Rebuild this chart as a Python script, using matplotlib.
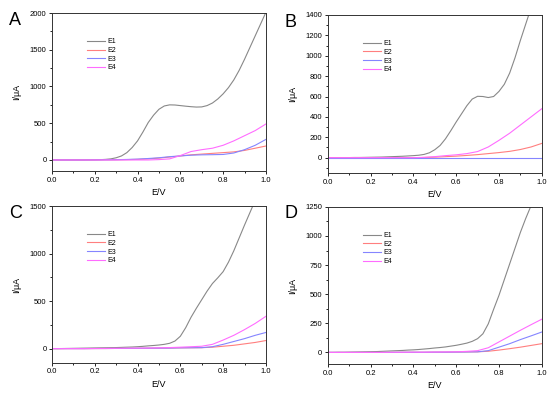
import numpy as np
import matplotlib
matplotlib.use("Agg")
import matplotlib.pyplot as plt
from matplotlib.ticker import MultipleLocator

plt.rcParams['font.family'] = ['Liberation Sans', 'DejaVu Sans']

# potential (V): coarse grid for the small currents, fine grid for E1
E = [0.00, 0.05, 0.10, 0.15, 0.20, 0.25, 0.30, 0.35, 0.40, 0.45, 0.50,
     0.55, 0.60, 0.65, 0.70, 0.75, 0.80, 0.85, 0.90, 0.95, 1.00]
E_fine = [0.000, 0.025, 0.050, 0.075, 0.100, 0.125, 0.150, 0.175, 0.200, 0.225,
          0.250, 0.275, 0.300, 0.325, 0.350, 0.375, 0.400, 0.425, 0.450, 0.475,
          0.500, 0.525, 0.550, 0.575, 0.600, 0.625, 0.650, 0.675, 0.700, 0.725,
          0.750, 0.775, 0.800, 0.825, 0.850, 0.875, 0.900, 0.925, 0.950, 0.975, 1.000]

# panel A currents (uA)
A_E1 = [0, 0, 0, 0, 0, 0, 0, 1, 2, 4, 8, 15, 30, 55, 100, 170, 260, 380, 510, 610,
        690, 735, 750, 748, 740, 732, 725, 720, 722, 740, 775, 830, 900, 985, 1090,
        1220, 1370, 1530, 1690, 1850, 2010]
A_E2 = [0, 0, 0, 0, 1, 2, 3, 5, 8, 15, 25, 40, 55, 70, 80, 90, 100, 110, 130, 160, 190]
A_E3 = [0, 0, 0, 0, 1, 2, 4, 7, 12, 20, 30, 45, 55, 65, 70, 72, 75, 95, 140, 200, 280]
A_E4 = [0, 0, 0, 0, 0, 0, 0, 0, 0, 0, 5, 15, 60, 115, 140, 160, 200, 260, 330, 400, 490]

# panel B
B_E1 = [0, 0, 0, 1, 1, 2, 2, 3, 4, 5, 6, 8, 10, 12, 14, 17, 20, 24, 32, 48,
        78, 120, 185, 265, 350, 430, 510, 575, 602, 600, 590, 600, 650, 720, 830,
        980, 1150, 1310, 1470, 1630, 1790]
B_E2 = [0, 0, 0, 0, 0, 0, 0, 0, 0, 2, 5, 10, 15, 22, 30, 40, 50, 62, 80, 105, 140]
B_E3 = [0, 0, 0, 0, 0, 0, 0, 0, 0, 0, 0, 0, 0, 0, 0, 0, 0, 0, 0, 0, 0]
B_E4 = [0, 0, 0, 0, 0, 0, 0, 0, 0, 3, 10, 20, 28, 40, 60, 105, 170, 240, 320, 400, 480]

# panel C
C_E1 = [0, 0, 1, 2, 3, 4, 5, 6, 7, 8, 9, 10, 11, 13, 15, 17, 20, 24, 29, 33,
        38, 45, 56, 80, 130, 220, 330, 425, 515, 605, 685, 745, 810, 910, 1030,
        1165, 1300, 1430, 1560, 1690, 1820]
C_E2 = [0, 0, 0, 0, 1, 1, 2, 2, 3, 4, 5, 6, 8, 9, 10, 15, 25, 35, 50, 65, 85]
C_E3 = [0, 0, 0, 0, 1, 1, 2, 2, 3, 4, 5, 6, 8, 9, 10, 20, 45, 75, 105, 140, 170]
C_E4 = [0, 0, 0, 0, 1, 2, 3, 4, 5, 6, 8, 11, 15, 20, 25, 45, 90, 140, 200, 265, 340]

# panel D
D_E1 = [0, 0, 1, 1, 2, 3, 4, 5, 6, 7, 9, 11, 13, 15, 17, 20, 22, 25, 29, 33,
        38, 42, 47, 54, 61, 70, 80, 95, 118, 160, 245, 370, 490, 625, 760,
        895, 1030, 1150, 1260, 1380, 1500]
D_E2 = [0, 0, 0, 0, 0, 0, 0, 1, 1, 1, 2, 2, 3, 4, 5, 10, 20, 32, 45, 60, 75]
D_E3 = [0, 0, 0, 0, 0, 0, 0, 1, 1, 1, 2, 2, 3, 4, 5, 15, 45, 75, 110, 142, 175]
D_E4 = [0, 0, 0, 0, 0, 0, 1, 1, 2, 2, 3, 4, 5, 9, 15, 40, 90, 140, 190, 238, 285]

labels = ['E1', 'E2', 'E3', 'E4']
colors = ['#888888', '#ff7f7f', '#8585ff', '#ff6cff']

panels = [
    ('A', [A_E1, A_E2, A_E3, A_E4], (-150, 2000), 500, [0.0945, 0.566, 0.389, 0.401]),
    ('B', [B_E1, B_E2, B_E3, B_E4], (-150, 1400), 200, [0.596, 0.561, 0.389, 0.401]),
    ('C', [C_E1, C_E2, C_E3, C_E4], (-150, 1500), 500, [0.0945, 0.079, 0.389, 0.398]),
    ('D', [D_E1, D_E2, D_E3, D_E4], (-100, 1250), 250, [0.596, 0.076, 0.389, 0.399]),
]

fig = plt.figure(figsize=(5.5, 3.94), dpi=100)

for name, series, ylim, ystep, pos in panels:
    ax = fig.add_axes(pos)
    for i, (ys, lab, c) in enumerate(zip(series, labels, colors)):
        xs = E_fine if i == 0 else E
        ax.plot(xs, ys, color=c, lw=0.8, label=lab)
    ax.set_xlim(0, 1.0)
    ax.set_ylim(*ylim)
    ax.xaxis.set_major_locator(MultipleLocator(0.2))
    ax.xaxis.set_minor_locator(MultipleLocator(0.1))
    ax.yaxis.set_major_locator(MultipleLocator(ystep))
    ax.yaxis.set_minor_locator(MultipleLocator(ystep / 2))
    ax.tick_params(which='both', direction='out', labelsize=5.5, width=0.6, pad=1.5)
    ax.tick_params(which='major', length=2.5)
    ax.tick_params(which='minor', length=1.5)
    for s in ax.spines.values():
        s.set_linewidth(0.7)
        s.set_color('#333333')
    ax.set_xlabel('E/V', fontsize=6.5, labelpad=3)
    ax.set_ylabel('I/\u03bcA', fontsize=6.5, labelpad=6)
    ax.legend(loc='upper left', bbox_to_anchor=(0.135, 0.88), frameon=False,
              fontsize=5, handlelength=2.6, handletextpad=0.3, labelspacing=0.25)
    fig.text(pos[0] - 0.078, pos[1] + pos[3] - 0.018, name, fontsize=13, va='center')

fig.savefig('out.png', dpi=100)
